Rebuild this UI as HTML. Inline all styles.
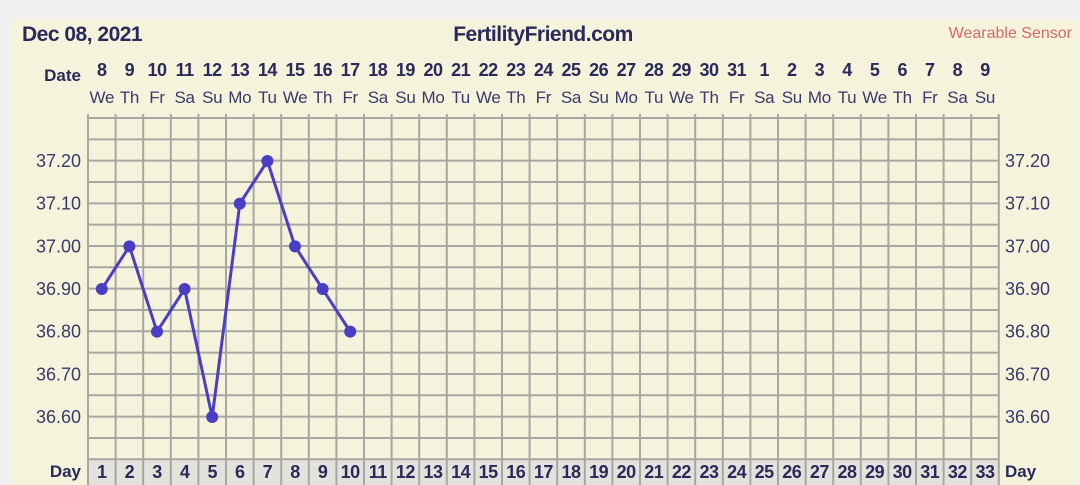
<!DOCTYPE html>
<html><head><meta charset="utf-8"><style>
body{margin:0;background:#f0f0f0;width:1080px;height:485px;overflow:hidden}
svg{display:block}
</style></head><body>
<svg width="1080" height="485" xmlns="http://www.w3.org/2000/svg" font-family="Liberation Sans, sans-serif">
<rect x="12" y="19" width="1066" height="470" fill="#f6f3dd"/>
<rect x="88" y="460" width="911" height="25" fill="#e4e2dc"/>
<text x="22" y="41" font-size="21" font-weight="bold" fill="#2a2a5a" letter-spacing="-0.5">Dec 08, 2021</text>
<text x="543" y="41" font-size="21" font-weight="bold" fill="#2a2a5a" text-anchor="middle" letter-spacing="-0.5">FertilityFriend.com</text>
<text x="1072" y="38" font-size="16" fill="#d46a6a" text-anchor="end">Wearable Sensor</text>
<text x="81" y="81" font-size="17" font-weight="bold" fill="#2a2a5a" text-anchor="end">Date</text>
<text x="81" y="477" font-size="17" font-weight="bold" fill="#2a2a5a" text-anchor="end">Day</text>
<text x="1005" y="477" font-size="17" font-weight="bold" fill="#2a2a5a">Day</text>
<g id="g"></g>
</svg>
<script>
const g=document.getElementById('g');
let h='';const L=88,W=27.6,T=118,R=21.33;
const dates=[8,9,10,11,12,13,14,15,16,17,18,19,20,21,22,23,24,25,26,27,28,29,30,31,1,2,3,4,5,6,7,8,9];
const dn=['We','Th','Fr','Sa','Su','Mo','Tu'];
for(let i=0;i<=33;i++){const x=L+i*W;h+=`<line x1="${x}" y1="${T-4}" x2="${x}" y2="485" stroke="#a8a6a0" stroke-width="2"/>`;}
for(let j=0;j<=16;j++){const y=T+j*R;h+=`<line x1="${L}" y1="${y}" x2="${L+33*W}" y2="${y}" stroke="#a8a6a0" stroke-width="2"/>`;}
for(let i=0;i<33;i++){const cx=L+i*W+W/2;
h+=`<text x="${cx}" y="76" font-size="18" font-weight="bold" fill="#2a2a5a" text-anchor="middle" letter-spacing="-0.5">${dates[i]}</text>`;
h+=`<text x="${cx}" y="103" font-size="17" fill="#3a3a6a" text-anchor="middle" letter-spacing="-0.3">${dn[i%7]}</text>`;
h+=`<text x="${cx}" y="478" font-size="18" font-weight="bold" fill="#2a2a5a" text-anchor="middle" letter-spacing="-0.5">${i+1}</text>`;}
const vy=v=>161+(37.2-v)*426.7;
[37.2,37.1,37.0,36.9,36.8,36.7,36.6].forEach(v=>{const y=vy(v)+6;
h+=`<text x="81" y="${y}" font-size="18" fill="#3a3a6a" text-anchor="end">${v.toFixed(2)}</text>`;
h+=`<text x="1005" y="${y}" font-size="18" fill="#3a3a6a">${v.toFixed(2)}</text>`;});
const d=[36.9,37.0,36.8,36.9,36.6,37.1,37.2,37.0,36.9,36.8];
const pts=d.map((v,i)=>[L+i*W+W/2,vy(v)]);
h+=`<polyline points="${pts.map(p=>p.join(',')).join(' ')}" fill="none" stroke="#4a3fc4" stroke-width="3"/>`;
pts.forEach(p=>h+=`<circle cx="${p[0]}" cy="${p[1]}" r="6" fill="#4a3fc4"/>`);
g.innerHTML=h;
</script>
</body></html>
